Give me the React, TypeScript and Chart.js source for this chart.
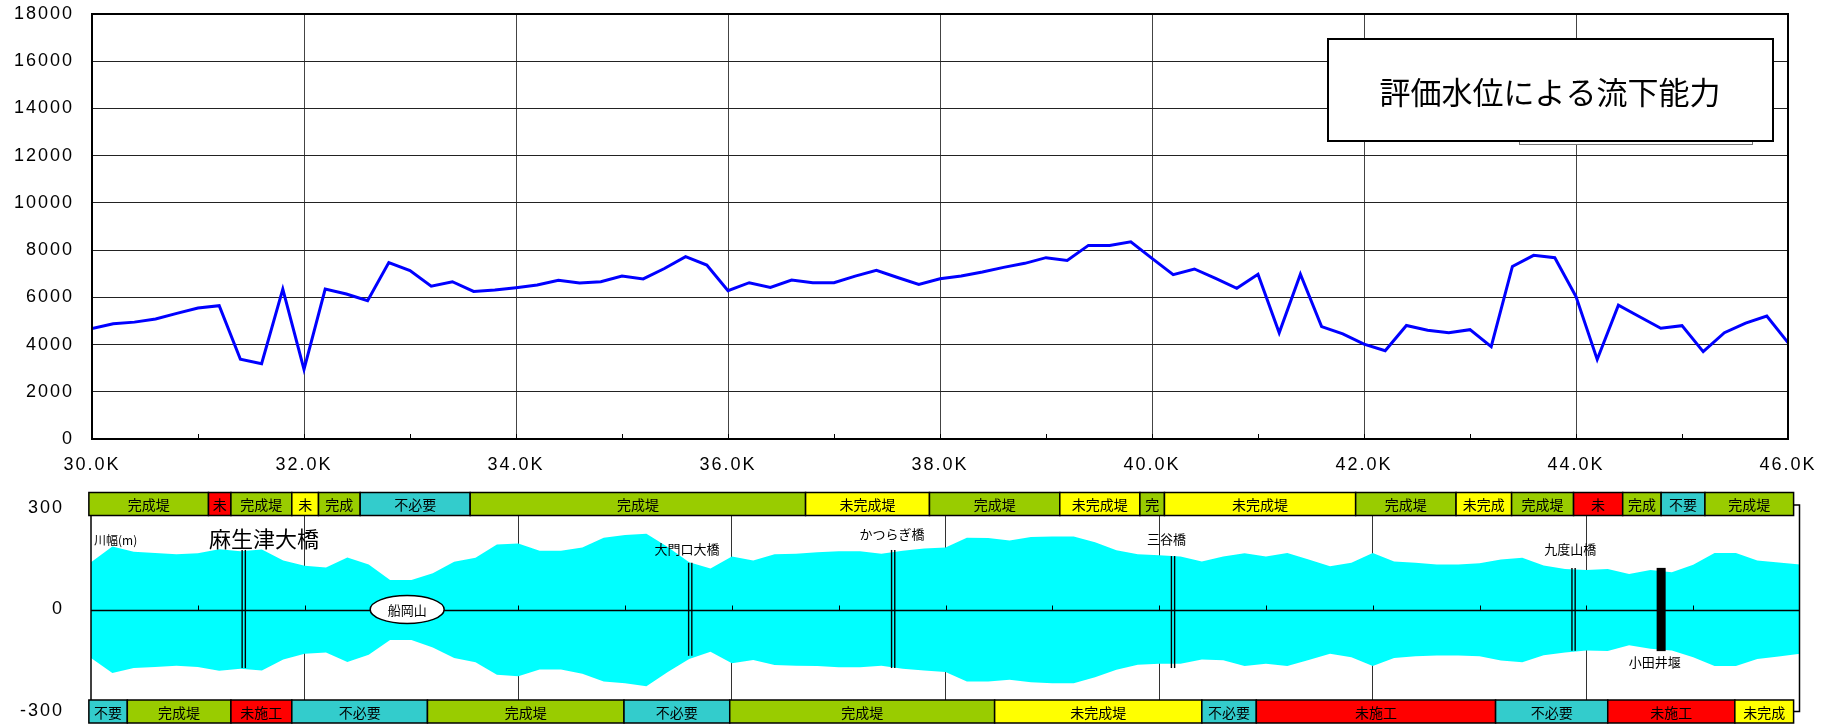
import React, { useEffect, useRef } from 'react';
import { Chart, registerables } from 'chart.js';
Chart.register(...registerables);

// ---------- data ----------
const KM = [
  30.0, 30.2, 30.4, 30.6, 30.8, 31.0, 31.2, 31.4, 31.6, 31.8,
  32.0, 32.2, 32.4, 32.6, 32.8, 33.0, 33.2, 33.4, 33.6, 33.8,
  34.0, 34.2, 34.4, 34.6, 34.8, 35.0, 35.2, 35.4, 35.6, 35.8,
  36.0, 36.2, 36.4, 36.6, 36.8, 37.0, 37.2, 37.4, 37.6, 37.8,
  38.0, 38.2, 38.4, 38.6, 38.8, 39.0, 39.2, 39.4, 39.6, 39.8,
  40.0, 40.2, 40.4, 40.6, 40.8, 41.0, 41.2, 41.4, 41.6, 41.8,
  42.0, 42.2, 42.4, 42.6, 42.8, 43.0, 43.2, 43.4, 43.6, 43.8,
  44.0, 44.2, 44.4, 44.6, 44.8, 45.0, 45.2, 45.4, 45.6, 45.8,
  46.0,
];

const CAPACITY = [
  4680, 4880, 4950, 5080, 5320, 5545, 5645, 3375, 3190, 6350,
  2950, 6350, 6140, 5860, 7470, 7130, 6470, 6660, 6250, 6310,
  6410, 6520, 6720, 6610, 6660, 6900, 6780, 7220, 7720, 7370,
  6280, 6620, 6420, 6730, 6620, 6620, 6900, 7140, 6840, 6550,
  6790, 6900, 7070, 7270, 7440, 7680, 7560, 8200, 8200, 8350,
  7650, 6960, 7200, 6800, 6380, 6980, 4500, 6980, 4760, 4450,
  4020, 3740, 4810, 4610, 4500, 4630, 3910, 7310, 7780, 7680,
  6030, 3370, 5670, 5180, 4690, 4800, 3700, 4500, 4910, 5210,
  4080,
];

const RIVER_UPPER = [
  140, 186, 171, 167, 163, 166, 178, 172, 177, 145,
  129, 124, 154, 133, 87, 87, 107, 141, 153, 192,
  195, 174, 174, 183, 212, 220, 224, 185, 140, 121,
  157, 145, 163, 165, 169, 172, 172, 165, 174, 180,
  183, 212, 211, 204, 214, 216, 216, 199, 175, 163,
  160, 157, 142, 157, 166, 157, 167, 148, 128, 138,
  167, 142, 138, 133, 133, 137, 148, 153, 130, 120,
  117, 120, 105, 117, 110, 132, 167, 167, 145, 139,
  133,
];

const RIVER_LOWER = [
  -143, -188, -173, -170, -166, -170, -181, -175, -180, -148,
  -131, -127, -155, -134, -90, -90, -112, -143, -156, -193,
  -197, -177, -177, -190, -213, -218, -227, -185, -146, -125,
  -159, -149, -164, -166, -167, -171, -171, -166, -175, -180,
  -185, -213, -213, -208, -215, -218, -218, -200, -178, -163,
  -160, -160, -148, -150, -167, -160, -167, -149, -131, -141,
  -167, -143, -138, -136, -136, -138, -151, -156, -135, -127,
  -121, -123, -106, -116, -121, -141, -167, -167, -146, -139,
  -131,
];

const MINOR_TICKS = [31, 32, 33, 34, 35, 36, 37, 38, 39, 40, 41, 42, 43, 44, 45];

const TOP_BOUNDS = [29.98, 31.10, 31.31, 31.88, 32.13, 32.52, 33.55, 36.69, 37.85, 39.07, 39.82, 40.05, 41.84, 42.78, 43.30, 43.88, 44.34, 44.70, 45.11, 45.94];
const TOP_LABELS = ['完成堤', '未', '完成堤', '未', '完成', '不必要', '完成堤', '未完成堤', '完成堤', '未完成堤', '完', '未完成堤', '完成堤', '未完成', '完成堤', '未', '完成', '不要', '完成堤'];
const TOP_KINDS = ['G', 'R', 'G', 'Y', 'G', 'T', 'G', 'Y', 'G', 'Y', 'G', 'Y', 'G', 'Y', 'G', 'R', 'G', 'T', 'G'];

const BOT_BOUNDS = [29.98, 30.34, 31.31, 31.88, 33.15, 34.99, 35.98, 38.46, 40.40, 40.91, 43.15, 44.20, 45.39, 45.94];
const BOT_LABELS = ['不要', '完成堤', '未施工', '不必要', '完成堤', '不必要', '完成堤', '未完成堤', '不必要', '未施工', '不必要', '未施工', '未完成'];
const BOT_KINDS = ['T', 'G', 'R', 'T', 'G', 'T', 'G', 'Y', 'T', 'R', 'T', 'R', 'Y'];

const BRIDGE_KM = [31.43, 35.61, 37.51, 40.13, 43.88];
const BRIDGE_TOP = [176, 138, 176, 158, 123];
const BRIDGE_BOTTOM = [-173, -137, -173, -173, -122];

const WEIR_KM = 44.70;
const WEIR_TOP = 123;
const WEIR_BOTTOM = -123;

const LABEL_TEXT = ['麻生津大橋', '大門口大橋', 'かつらぎ橋', '三谷橋', '九度山橋', '小田井堰'];
const LABEL_KM = [31.62, 35.58, 37.50, 40.07, 43.85, 44.64];
const LABEL_Y = [208, 179, 223, 208, 179, -155];
const LABEL_SIZE = [22, 13, 13, 13, 13, 13];

const TITLE = '評価水位による流下能力';

// ---------- styling ----------
const KIND_COLOR: Record<string, string> = { G: '#99CC00', R: '#FF0000', Y: '#FFFF00', T: '#33CCCC' };
const JP = '"Noto Sans CJK JP", "Noto Sans", sans-serif';
const NUM = '"Liberation Sans", Arial, sans-serif';

const noPad = (s: any) => {
  s.paddingTop = 0;
  s.paddingBottom = 0;
  s.paddingLeft = 0;
  s.paddingRight = 0;
};

const topDecor = {
  id: 'topDecor',
  beforeDraw(chart: any) {
    chart.ctx.letterSpacing = '2px';
  },
  afterDatasetsDraw(chart: any) {
    const { ctx, chartArea: a } = chart;
    const x = chart.scales.x;
    ctx.save();
    ctx.letterSpacing = '0px';
    ctx.strokeStyle = '#000';
    ctx.lineWidth = 1;
    for (const k of MINOR_TICKS) {
      const px = Math.round(x.getPixelForValue(k)) + 0.5;
      ctx.beginPath();
      ctx.moveTo(px, a.bottom);
      ctx.lineTo(px, a.bottom - 5);
      ctx.stroke();
    }
    ctx.lineWidth = 2;
    ctx.strokeRect(a.left, a.top, a.right - a.left, a.bottom - a.top);

    // faint legend box behind the title
    ctx.lineWidth = 1;
    ctx.strokeStyle = '#777';
    ctx.fillStyle = '#fff';
    ctx.fillRect(1519.5, 100.5, 233, 44);
    ctx.strokeRect(1519.5, 100.5, 233, 44);

    // title box
    ctx.fillStyle = '#fff';
    ctx.fillRect(1328, 39, 445, 102);
    ctx.strokeStyle = '#000';
    ctx.lineWidth = 2;
    ctx.strokeRect(1328, 39, 445, 102);
    ctx.fillStyle = '#000';
    ctx.font = `31px ${JP}`;
    ctx.textAlign = 'center';
    ctx.textBaseline = 'middle';
    ctx.fillText(TITLE, 1550, 92);
    ctx.restore();
  },
  afterDraw(chart: any) {
    chart.ctx.letterSpacing = '0px';
  },
};

const bottomDecor = {
  id: 'bottomDecor',
  beforeDraw(chart: any) {
    chart.ctx.letterSpacing = '2px';
  },
  afterDatasetsDraw(chart: any) {
    const { ctx, chartArea: a } = chart;
    const x = chart.scales.x;
    const y = chart.scales.y;
    ctx.save();
    ctx.letterSpacing = '0px';
    const y0 = Math.round(y.getPixelForValue(0)) + 0.5;
    // zero line
    ctx.strokeStyle = '#000';
    ctx.lineWidth = 1.5;
    ctx.beginPath();
    ctx.moveTo(a.left, y0);
    ctx.lineTo(a.right, y0);
    ctx.stroke();
    ctx.lineWidth = 1;
    for (const k of MINOR_TICKS) {
      const px = Math.round(x.getPixelForValue(k)) + 0.5;
      ctx.beginPath();
      ctx.moveTo(px, y0);
      ctx.lineTo(px, y0 - 5);
      ctx.stroke();
    }
    // left border
    ctx.lineWidth = 1.5;
    ctx.beginPath();
    ctx.moveTo(a.left, a.top);
    ctx.lineTo(a.left, a.bottom);
    ctx.stroke();

    // bridges
    for (let i = 0; i < BRIDGE_KM.length; i++) {
      const px = x.getPixelForValue(BRIDGE_KM[i]);
      const t = y.getPixelForValue(BRIDGE_TOP[i]);
      const b = y.getPixelForValue(BRIDGE_BOTTOM[i]);
      ctx.lineWidth = 1.4;
      for (const dx of [-1.6, 1.6]) {
        ctx.beginPath();
        ctx.moveTo(px + dx, t);
        ctx.lineTo(px + dx, b);
        ctx.stroke();
      }
    }
    // weir
    {
      const px = x.getPixelForValue(WEIR_KM);
      const t = y.getPixelForValue(WEIR_TOP);
      const b = y.getPixelForValue(WEIR_BOTTOM);
      ctx.fillStyle = '#000';
      ctx.fillRect(px - 4.5, t, 9, b - t);
    }

    // labels
    ctx.fillStyle = '#000';
    ctx.textBaseline = 'middle';
    ctx.textAlign = 'center';
    for (let i = 0; i < LABEL_TEXT.length; i++) {
      ctx.font = `${LABEL_SIZE[i]}px ${JP}`;
      ctx.fillText(LABEL_TEXT[i], x.getPixelForValue(LABEL_KM[i]), y.getPixelForValue(LABEL_Y[i]));
    }
    ctx.textAlign = 'left';
    ctx.font = `12px ${JP}`;
    ctx.fillText('川幅(m)', a.left + 3, y.getPixelForValue(205));

    // 船岡山 ellipse
    {
      const cx = x.getPixelForValue(32.96);
      const cy = y.getPixelForValue(0);
      ctx.beginPath();
      ctx.ellipse(cx, cy, 37, 14, 0, 0, Math.PI * 2);
      ctx.fillStyle = '#fff';
      ctx.fill();
      ctx.lineWidth = 1.5;
      ctx.strokeStyle = '#000';
      ctx.stroke();
      ctx.fillStyle = '#000';
      ctx.textAlign = 'center';
      ctx.font = `13px ${JP}`;
      ctx.fillText('船岡山', cx, cy + 1);
    }

    // right bracket border
    const yT = y.getPixelForValue(300) - 3;
    const yB = y.getPixelForValue(-300) + 0.5;
    const xr = a.right - 0.5;
    const xe = x.getPixelForValue(TOP_BOUNDS[TOP_BOUNDS.length - 1]);
    ctx.lineWidth = 1.5;
    ctx.beginPath();
    ctx.moveTo(xe, yT);
    ctx.lineTo(xr, yT);
    ctx.lineTo(xr, yB);
    ctx.lineTo(xe, yB);
    ctx.stroke();

    // bands
    const drawBands = (bounds: number[], labels: string[], kinds: string[], top: number, h: number) => {
      for (let i = 0; i < labels.length; i++) {
        const x1 = x.getPixelForValue(bounds[i]);
        const x2 = x.getPixelForValue(bounds[i + 1]);
        ctx.fillStyle = KIND_COLOR[kinds[i]];
        ctx.fillRect(x1, top, x2 - x1, h);
        ctx.strokeStyle = '#000';
        ctx.lineWidth = 1.5;
        ctx.strokeRect(x1, top, x2 - x1, h);
        ctx.fillStyle = '#000';
        ctx.font = `14px ${JP}`;
        ctx.textAlign = 'center';
        ctx.textBaseline = 'middle';
        ctx.fillText(labels[i], (x1 + x2) / 2, top + h / 2 + 1);
      }
    };
    drawBands(TOP_BOUNDS, TOP_LABELS, TOP_KINDS, y.getPixelForValue(300) - 15.5, 23);
    drawBands(BOT_BOUNDS, BOT_LABELS, BOT_KINDS, y.getPixelForValue(-300) - 11, 23);
    ctx.restore();
  },
  afterDraw(chart: any) {
    chart.ctx.letterSpacing = '0px';
  },
};

export default function App() {
  const topRef = useRef<HTMLCanvasElement>(null);
  const botRef = useRef<HTMLCanvasElement>(null);

  useEffect(() => {
    const top = new Chart(topRef.current as HTMLCanvasElement, {
      type: 'line',
      data: {
        datasets: [
          {
            label: '流下能力',
            data: KM.map((k, i) => ({ x: k, y: CAPACITY[i] })),
            borderColor: '#0000FF',
            borderWidth: 3,
            pointRadius: 0,
            tension: 0,
            fill: false,
          },
        ],
      },
      options: {
        animation: false,
        responsive: false,
        maintainAspectRatio: false,
        devicePixelRatio: 1,
        layout: { padding: { top: 14, right: 51, left: 0, bottom: 0 } },
        plugins: { legend: { display: false }, tooltip: { enabled: false }, title: { display: false } },
        scales: {
          x: {
            type: 'linear',
            min: 30,
            max: 46,
            ticks: {
              stepSize: 2,
              autoSkip: false,
              maxRotation: 0,
              padding: 15,
              color: '#000',
              font: { size: 18, family: NUM },
              callback: (v: any) => Number(v).toFixed(1) + 'K',
            },
            grid: { color: '#444', lineWidth: 1, drawTicks: false },
            border: { display: false },
            afterFit: (s: any) => { s.height = 41; noPad(s); },
          },
          y: {
            min: 0,
            max: 18000,
            ticks: {
              stepSize: 2000,
              padding: 18,
              color: '#000',
              font: { size: 18, family: NUM },
              callback: (v: any) => String(v),
            },
            grid: { color: '#222', lineWidth: 1, drawTicks: false },
            border: { display: false },
            afterFit: (s: any) => { s.width = 92; noPad(s); },
          },
        },
      },
      plugins: [topDecor],
    } as any);

    const bot = new Chart(botRef.current as HTMLCanvasElement, {
      type: 'line',
      data: {
        datasets: [
          {
            label: 'upper',
            data: KM.map((k, i) => ({ x: k, y: RIVER_UPPER[i] })),
            borderWidth: 0,
            borderColor: 'rgba(0,0,0,0)',
            backgroundColor: '#00FFFF',
            pointRadius: 0,
            tension: 0,
            fill: '+1',
          },
          {
            label: 'lower',
            data: KM.map((k, i) => ({ x: k, y: RIVER_LOWER[i] })),
            borderWidth: 0,
            borderColor: 'rgba(0,0,0,0)',
            backgroundColor: '#00FFFF',
            pointRadius: 0,
            tension: 0,
            fill: false,
          },
        ],
      },
      options: {
        animation: false,
        responsive: false,
        maintainAspectRatio: false,
        devicePixelRatio: 1,
        layout: { padding: { top: 28, right: 39, left: 0, bottom: 14 } },
        plugins: { legend: { display: false }, tooltip: { enabled: false }, filler: { propagate: false } },
        scales: {
          x: {
            type: 'linear',
            min: 30,
            max: 46,
            ticks: { display: false, stepSize: 2 },
            grid: { color: (c: any) => (c.tick && (c.tick.value === 30 || c.tick.value === 46) ? 'rgba(0,0,0,0)' : '#333'), lineWidth: 1, drawTicks: false },
            border: { display: false },
            afterFit: (s: any) => { s.height = 0; noPad(s); },
          },
          y: {
            min: -300,
            max: 300,
            ticks: { stepSize: 300, padding: 19, color: '#000', font: { size: 18, family: NUM } },
            grid: { display: false },
            border: { display: false },
            afterFit: (s: any) => { s.width = 91; noPad(s); },
          },
        },
      },
      plugins: [bottomDecor],
    } as any);

    return () => {
      top.destroy();
      bot.destroy();
    };
  }, []);

  return (
    <div style={{ position: 'absolute', left: 0, top: 0, width: 1839, height: 725, background: '#fff', overflow: 'hidden' }}>
      <canvas ref={topRef} width={1839} height={480} style={{ position: 'absolute', left: 0, top: 0, width: 1839, height: 480 }} />
      <canvas ref={botRef} width={1839} height={245} style={{ position: 'absolute', left: 0, top: 480, width: 1839, height: 245 }} />
    </div>
  );
}
